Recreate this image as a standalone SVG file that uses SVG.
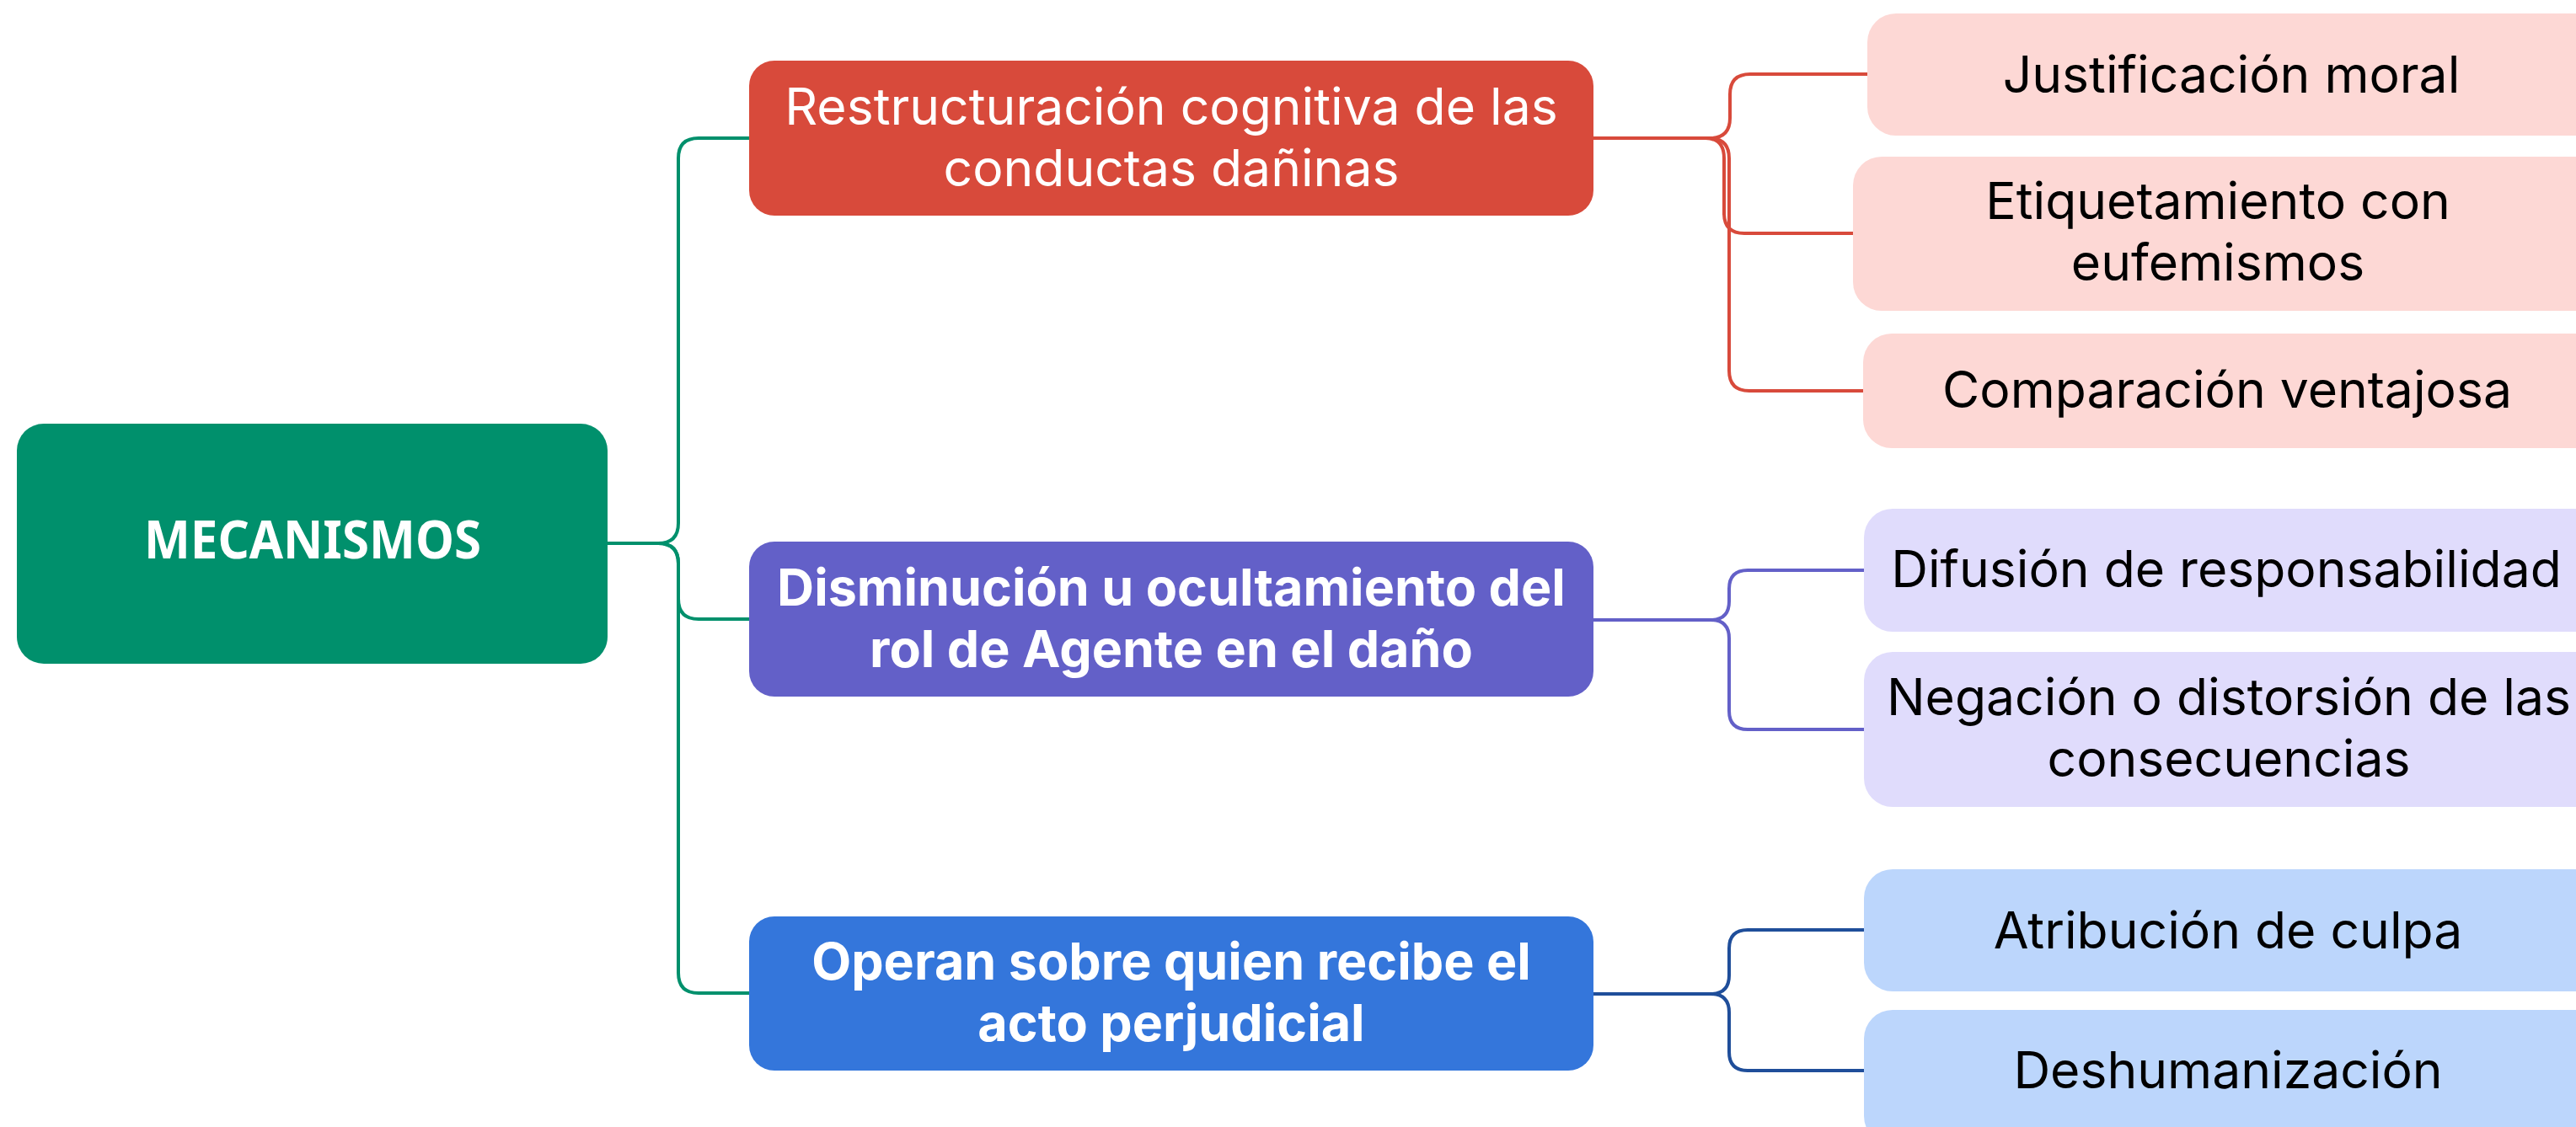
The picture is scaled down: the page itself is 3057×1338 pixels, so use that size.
<svg xmlns="http://www.w3.org/2000/svg" width="3057" height="1338" viewBox="0 0 3057 1338">
<style>
.t{font-family:Inter,"Liberation Sans",sans-serif;font-size:60.6px;text-anchor:middle}
.w{fill:#ffffff}
.b{fill:#000000}
.bold{font-weight:700;font-size:61px}
.c{fill:none;stroke-width:4}
.g{stroke:#00906C}
.r{stroke:#D84A3B}
.p{stroke:#6360C8}
.u{stroke:#1F4E9A}
</style>
<rect width="3057" height="1338" fill="#ffffff"/>
<g id="connectors">
<path class="c g" d="M721 645 H781 Q805 645 805 621 V188 Q805 164 829 164 H889"/>
<path class="c g" d="M721 645 H781 Q805 645 805 669 V711 Q805 735 829 735 H889"/>
<path class="c g" d="M721 645 H781 Q805 645 805 669 V1155 Q805 1179 829 1179 H889"/>
<path class="c r" d="M1891 164 H2029 Q2053 164 2053 140 V112 Q2053 88 2077 88 H2216"/>
<path class="c r" d="M1891 164 H2024 Q2046 164 2046 188 V253 Q2046 277 2070 277 H2199"/>
<path class="c r" d="M1891 164 H2028 Q2052 164 2052 188 V440 Q2052 464 2076 464 H2211"/>
<path class="c p" d="M1891 736 H2030 Q2052 736 2052 714 V699 Q2052 677 2074 677 H2212"/>
<path class="c p" d="M1891 736 H2030 Q2052 736 2052 758 V844 Q2052 866 2074 866 H2212"/>
<path class="c u" d="M1891 1180 H2030 Q2052 1180 2052 1158 V1126 Q2052 1104 2074 1104 H2212"/>
<path class="c u" d="M1891 1180 H2030 Q2052 1180 2052 1202 V1249 Q2052 1271 2074 1271 H2212"/>
</g>
<g id="root">
<rect x="20" y="503" width="701" height="285" rx="32" fill="#00906C"/>
<text x="371" y="663" font-family="'Noto Sans','Open Sans',sans-serif" font-size="62" font-weight="700" fill="#ffffff" text-anchor="middle" textLength="400" lengthAdjust="spacingAndGlyphs">MECANISMOS</text>
</g>
<g id="n-restructuracion">
<rect x="889" y="72" width="1002" height="184" rx="30" fill="#D84A3B"/>
<text class="t w" x="1390"><tspan x="1390" y="148">Restructuración cognitiva de las</tspan><tspan x="1390" y="221">conductas dañinas</tspan></text>
</g>
<g id="n-disminucion">
<rect x="889" y="643" width="1002" height="184" rx="30" fill="#6360C8"/>
<text class="t w bold" x="1390"><tspan x="1390" y="719">Disminución u ocultamiento del</tspan><tspan x="1390" y="792">rol de Agente en el daño</tspan></text>
</g>
<g id="n-operan">
<rect x="889" y="1088" width="1002" height="183" rx="30" fill="#3476DB"/>
<text class="t w bold" x="1390"><tspan x="1390" y="1163">Operan sobre quien recibe el</tspan><tspan x="1390" y="1236">acto perjudicial</tspan></text>
</g>
<g id="n-justificacion">
<rect x="2216" y="16" width="880" height="145" rx="34" fill="#FDD8D5"/>
<text class="t b" x="2648" y="110">Justificación moral</text>
</g>
<g id="n-etiquetamiento">
<rect x="2199" y="186" width="897" height="183" rx="34" fill="#FDD8D5"/>
<text class="t b" x="2632"><tspan x="2632" y="260">Etiquetamiento con</tspan><tspan x="2632" y="333">eufemismos</tspan></text>
</g>
<g id="n-comparacion">
<rect x="2211" y="396" width="885" height="136" rx="34" fill="#FDD8D5"/>
<text class="t b" x="2643" y="484">Comparación ventajosa</text>
</g>
<g id="n-difusion">
<rect x="2212" y="604" width="884" height="146" rx="34" fill="#E0DCFC"/>
<text class="t b" x="2642" y="697">Difusión de responsabilidad</text>
</g>
<g id="n-negacion">
<rect x="2212" y="774" width="884" height="184" rx="34" fill="#E0DCFC"/>
<text class="t b" x="2645"><tspan x="2645" y="849">Negación o distorsión de las</tspan><tspan x="2645" y="922">consecuencias</tspan></text>
</g>
<g id="n-atribucion">
<rect x="2212" y="1032" width="884" height="145" rx="34" fill="#BCD6FC"/>
<text class="t b" x="2644" y="1126">Atribución de culpa</text>
</g>
<g id="n-deshumanizacion">
<rect x="2212" y="1199" width="884" height="160" rx="34" fill="#BCD6FC"/>
<text class="t b" x="2644" y="1292">Deshumanización</text>
</g>
</svg>
